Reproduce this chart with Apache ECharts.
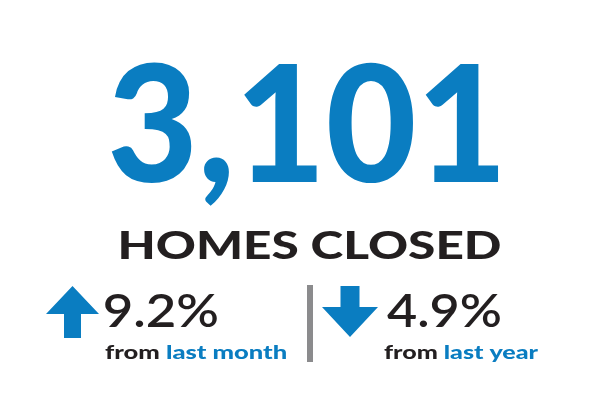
<!DOCTYPE html>
<html><head><meta charset="utf-8">
<script src="https://cdn.jsdelivr.net/npm/echarts@6/dist/echarts.min.js"></script>
<style>html,body{margin:0;padding:0;background:#fff}#c{width:604px;height:400px}</style>
</head><body><div id="c"></div>
<script>
// ---- data ----
const totalValue = 3101;
const totalLabel = 'HOMES CLOSED';
const changeValues = [9.2, -4.9];
const changePeriods = ['last month', 'last year'];
const fromWord = 'from ';

// ---- style / layout ----
const BLUE = '#0a7dc1', DARK = '#231f20', GREY = '#8b8b8d';
const FAM = 'Lato';
const cv = document.createElement('canvas').getContext('2d');

function fit(text, weight, capTop, baseline, left, right) {
  cv.textBaseline = 'middle';
  cv.font = weight + ' 100px ' + FAM;
  const h = cv.measureText('H');
  const capR = (h.actualBoundingBoxAscent + h.actualBoundingBoxDescent) / 100;
  const size = (baseline - capTop) / capR;
  const font = weight + ' ' + size.toFixed(2) + 'px ' + FAM;
  cv.font = font;
  const m = cv.measureText(text);
  const hm = cv.measureText('H');
  const ink = m.actualBoundingBoxLeft + m.actualBoundingBoxRight;
  const sx = (right - left) / ink;
  return {
    font: font, sx: sx,
    x: left + m.actualBoundingBoxLeft * sx,
    y: baseline - hm.actualBoundingBoxDescent,
    w: function (t) { cv.font = font; return cv.measureText(t).width * sx; }
  };
}
function txt(text, f, x, fill) {
  return {
    type: 'text', x: x, y: f.y, scaleX: f.sx, scaleY: 1,
    style: { text: text, x: 0, y: 0, font: f.font, fill: fill,
      align: 'left', verticalAlign: 'middle', textAlign: 'left', textVerticalAlign: 'middle' }
  };
}

const elements = [];
// Big number
const bigStr = totalValue.toLocaleString('en-US');
const fb = fit(bigStr, '900', 63, 182, 111, 498);
elements.push(txt(bigStr, fb, fb.x, BLUE));
// label
const fl = fit(totalLabel, '900', 231, 259, 120, 500);
elements.push(txt(totalLabel, fl, fl.x, DARK));

// change items layout
const itemLayout = [
  { arrowX: 72.5, textLeft: 105, textRight: 217, subRight: 286 },
  { arrowX: 350, textLeft: 387, textRight: 500, subRight: 539 }
];
changeValues.forEach(function (v, i) {
  const L = itemLayout[i];
  const ax = L.arrowX;
  let pts;
  if (v >= 0) {
    pts = [[ax, 286], [ax + 26.5, 314], [ax + 8.5, 314], [ax + 8.5, 338], [ax - 8.5, 338], [ax - 8.5, 314], [ax - 26.5, 314]];
  } else {
    pts = [[ax - 9.5, 286], [ax + 9.5, 286], [ax + 9.5, 307], [ax + 28, 307], [ax, 337], [ax - 28, 307], [ax - 9.5, 307]];
  }
  elements.push({ type: 'polygon', shape: { points: pts }, style: { fill: BLUE } });
  const pStr = Math.abs(v).toFixed(1) + '%';
  const fp = fit(pStr, '600', 293, 327, L.textLeft, L.textRight);
  elements.push(txt(pStr, fp, fp.x, DARK));
  const sub = fromWord + changePeriods[i];
  const fs = fit(sub, '900', 345, 359, L.textLeft - (i ? 3 : 0), L.subRight);
  elements.push(txt(fromWord, fs, fs.x, DARK));
  elements.push(txt(changePeriods[i], fs, fs.x + fs.w(fromWord), BLUE));
});
// divider
elements.push({ type: 'rect', shape: { x: 307, y: 285, width: 6, height: 77 }, style: { fill: GREY } });

const chart = echarts.init(document.getElementById('c'));
chart.setOption({ backgroundColor: '#ffffff', graphic: { elements: elements } });
</script>
</body></html>
